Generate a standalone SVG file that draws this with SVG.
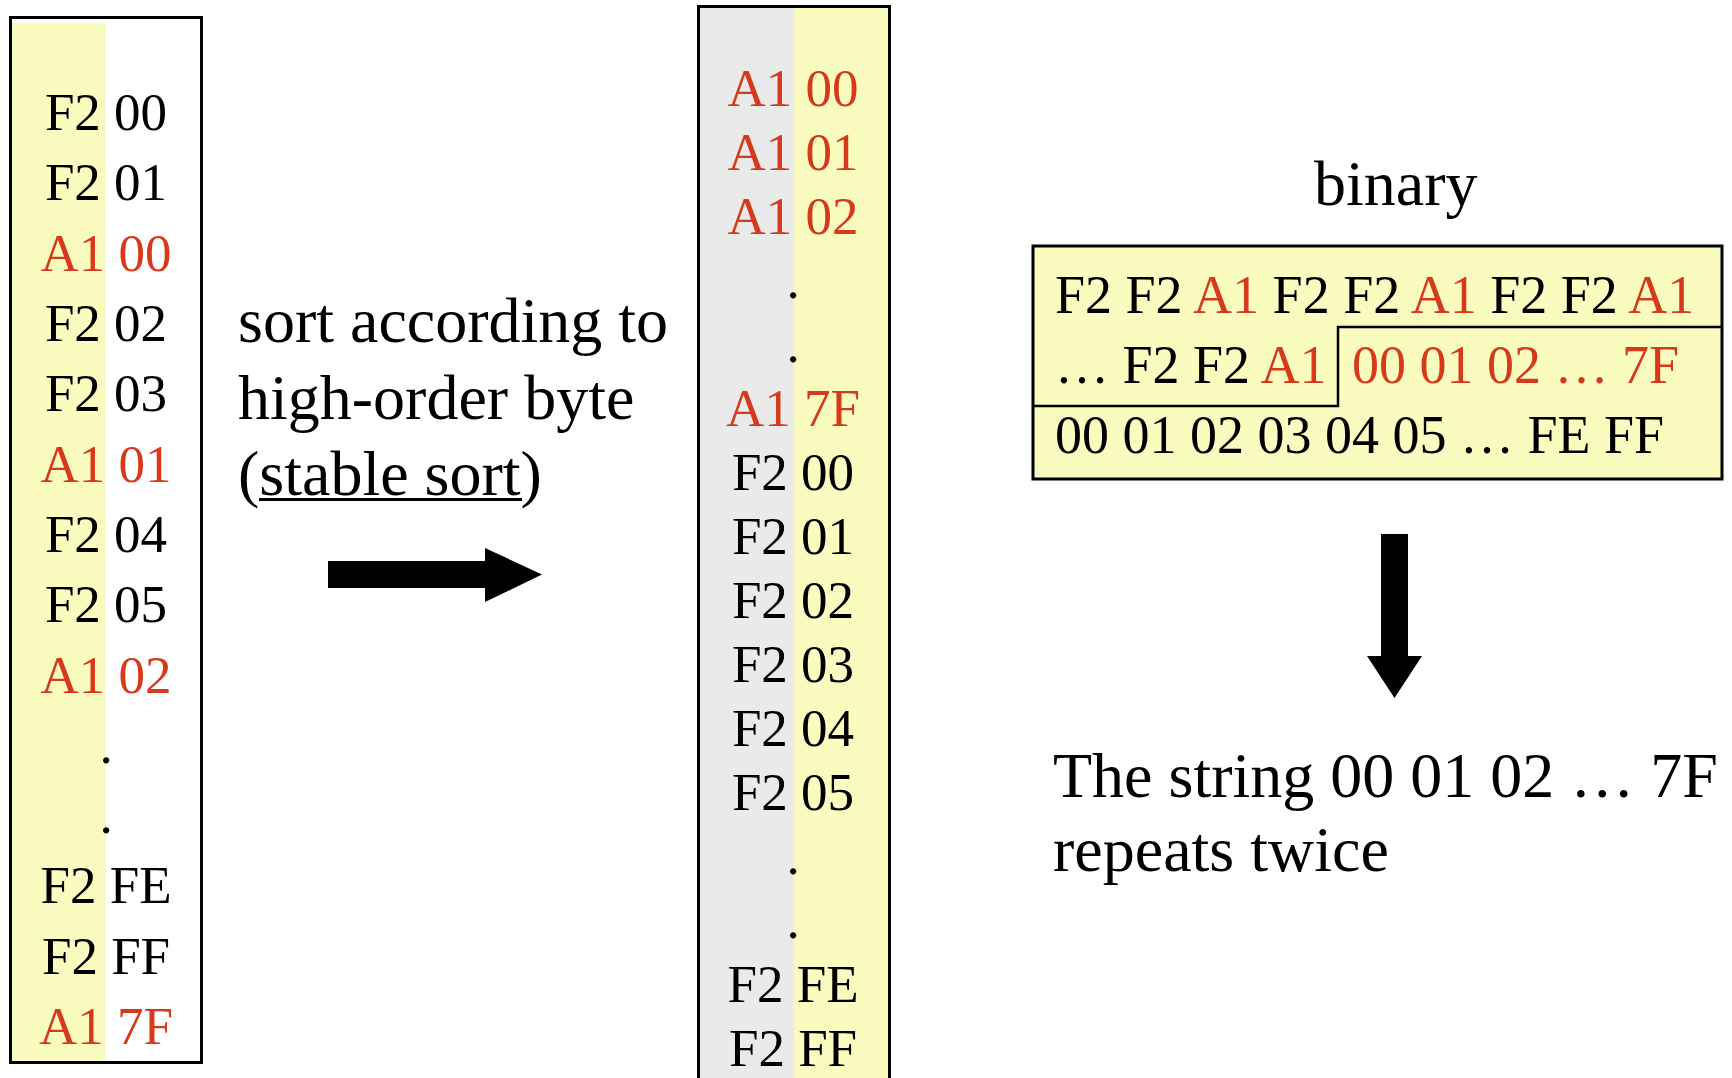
<svg xmlns="http://www.w3.org/2000/svg" width="1732" height="1078" viewBox="0 0 1732 1078">
  <style>
    text { font-family: "Liberation Serif", "Times New Roman", serif; fill: #000; }
    .cell { font-size: 53px; text-anchor: middle; }
    .row { font-size: 54px; }
    .big { font-size: 64px; }
    .red { fill: #d63a1b; }
    .frame { fill: none; stroke: #000; stroke-width: 3; }
    .yellow { fill: #fafbbe; }
    .gray { fill: #eaeaea; }
    .arrow { fill: #000; }
  </style>

  <rect x="0" y="0" width="1732" height="1078" fill="#fff"/>

  <!-- unsorted pairs: high byte on yellow, low byte on white -->
  <g id="input-column">
    <rect class="yellow" x="12" y="23" width="94" height="1038"/>
    <rect class="frame" x="10.5" y="17.5" width="191" height="1045"/>
    <text class="cell" x="106" y="130">F2 00</text>
    <text class="cell" x="106" y="200">F2 01</text>
    <text class="cell red" x="106" y="271">A1 00</text>
    <text class="cell" x="106" y="341">F2 02</text>
    <text class="cell" x="106" y="411">F2 03</text>
    <text class="cell red" x="106" y="482">A1 01</text>
    <text class="cell" x="106" y="552">F2 04</text>
    <text class="cell" x="106" y="622">F2 05</text>
    <text class="cell red" x="106" y="693">A1 02</text>
    <text class="cell" x="106" y="763">.</text>
    <text class="cell" x="106" y="833">.</text>
    <text class="cell" x="106" y="903">F2 FE</text>
    <text class="cell" x="106" y="974">F2 FF</text>
    <text class="cell red" x="106" y="1044">A1 7F</text>
  </g>

  <!-- sort caption -->
  <g id="sort-label">
    <text class="big" x="238" y="342">sort according to</text>
    <text class="big" x="238" y="419">high-order byte</text>
    <text class="big" x="238" y="495">(stable sort)</text>
    <line x1="259" y1="499.5" x2="522" y2="499.5" stroke="#000" stroke-width="3"/>
  </g>

  <!-- sorted pairs: high byte on gray, low byte on yellow -->
  <g id="sorted-column">
    <rect class="gray" x="699" y="8" width="95" height="1090"/>
    <rect class="yellow" x="794" y="8" width="95" height="1090"/>
    <rect class="frame" x="698.5" y="6.5" width="191" height="1100"/>
    <text class="cell red" x="793" y="106">A1 00</text>
    <text class="cell red" x="793" y="170">A1 01</text>
    <text class="cell red" x="793" y="234">A1 02</text>
    <text class="cell" x="793" y="298">.</text>
    <text class="cell" x="793" y="362">.</text>
    <text class="cell red" x="793" y="426">A1 7F</text>
    <text class="cell" x="793" y="490">F2 00</text>
    <text class="cell" x="793" y="554">F2 01</text>
    <text class="cell" x="793" y="618">F2 02</text>
    <text class="cell" x="793" y="682">F2 03</text>
    <text class="cell" x="793" y="746">F2 04</text>
    <text class="cell" x="793" y="810">F2 05</text>
    <text class="cell" x="793" y="874">.</text>
    <text class="cell" x="793" y="938">.</text>
    <text class="cell" x="793" y="1002">F2 FE</text>
    <text class="cell" x="793" y="1066">F2 FF</text>
  </g>

  <!-- binary output block -->
  <g id="binary-block">
    <text class="big" x="1314" y="205">binary</text>
    <rect class="yellow" x="1033" y="246" width="689" height="233"/>
    <rect class="frame" x="1033" y="246" width="689" height="233"/>
    <polyline points="1033,406 1338,406 1338,327 1722,327" fill="none" stroke="#000" stroke-width="2.5"/>
    <text class="row" x="1055" y="313">F2 F2 <tspan class="red">A1</tspan> F2 F2 <tspan class="red">A1</tspan> F2 F2 <tspan class="red">A1</tspan></text>
    <text class="row" x="1055" y="383">… F2 F2 <tspan class="red">A1</tspan></text>
    <text class="row red" x="1352" y="383">00 01 02 … 7F</text>
    <text class="row" x="1055" y="453">00 01 02 03 04 05 … FE FF</text>
  </g>

  <!-- conclusion -->
  <g id="result-label">
    <text class="big" x="1053" y="797">The string 00 01 02 … 7F</text>
    <text class="big" x="1053" y="871">repeats twice</text>
  </g>

  <!-- block arrows -->
  <g id="connectors">
    <polygon class="arrow" points="328,561 485,561 485,548 542,574.5 485,602 485,588 328,588"/>
    <polygon class="arrow" points="1381,534 1408,534 1408,656 1422,656 1394.5,698 1367,656 1381,656"/>
  </g>
</svg>
